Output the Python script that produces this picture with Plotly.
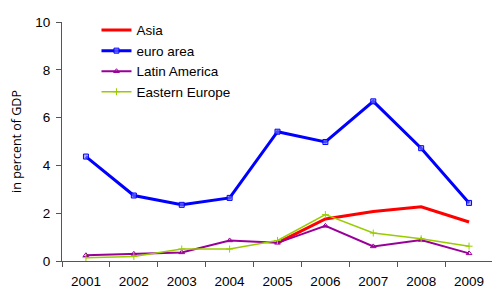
import plotly.graph_objects as go

years = ["2001", "2002", "2003", "2004", "2005", "2006", "2007", "2008", "2009"]
asia = [None, None, None, None, 0.76, 1.76, 2.07, 2.27, 1.63]
euro_area = [4.37, 2.74, 2.35, 2.64, 5.41, 4.98, 6.68, 4.72, 2.43]
latin_america = [0.24, 0.30, 0.36, 0.86, 0.76, 1.47, 0.61, 0.88, 0.32]
eastern_europe = [0.14, 0.19, 0.50, 0.50, 0.86, 1.94, 1.17, 0.93, 0.62]

font = "Liberation Sans"
fig = go.Figure()
fig.add_trace(go.Scatter(x=years, y=asia, name="Asia", mode="lines",
                         line=dict(color="#FF0000", width=3)))
fig.add_trace(go.Scatter(x=years, y=euro_area, name="euro area", mode="lines+markers",
                         line=dict(color="#0000FF", width=3),
                         marker=dict(symbol="square", size=5, color="rgba(120,120,255,0.6)",
                                     line=dict(color="#0000FF", width=1))))
fig.add_trace(go.Scatter(x=years, y=latin_america, name="Latin America", mode="lines+markers",
                         line=dict(color="#990099", width=2),
                         marker=dict(symbol="triangle-up-open", size=5, color="#990099",
                                     line=dict(width=1))))
fig.add_trace(go.Scatter(x=years, y=eastern_europe, name="Eastern Europe", mode="lines+markers",
                         line=dict(color="#99CC00", width=1.5),
                         marker=dict(symbol="cross-thin-open", size=5, color="#99CC00",
                                     line=dict(width=1, color="#99CC00"))))

fig.update_layout(
    width=492, height=289,
    margin=dict(l=50, r=7, t=12, b=36),
    paper_bgcolor="white", plot_bgcolor="white",
    font=dict(family=font, size=13.5, color="black"),
    showlegend=True,
    legend=dict(x=0.08, y=1.03, xanchor="left", yanchor="top",
                bgcolor="rgba(0,0,0,0)", font=dict(size=13.5), tracegroupgap=0),
    xaxis=dict(type="category", range=[-0.5, 8.5], showgrid=False,
               showline=True, linecolor="#555555", linewidth=1,
               ticks="outside", tickson="boundaries", ticklen=5, tickcolor="#555555",
               ticklabelstandoff=8, tickfont=dict(size=13.5)),
    yaxis=dict(range=[0, 10], dtick=2, showgrid=False, zeroline=False,
               showline=True, linecolor="#555555", linewidth=1,
               ticks="outside", ticklen=5, tickcolor="#555555", ticklabelstandoff=3,
               title=dict(text="in percent of GDP", font=dict(family="Open Sans", size=12.5), standoff=12),
               tickfont=dict(size=13.5)),
)
fig.write_html("out.html")
